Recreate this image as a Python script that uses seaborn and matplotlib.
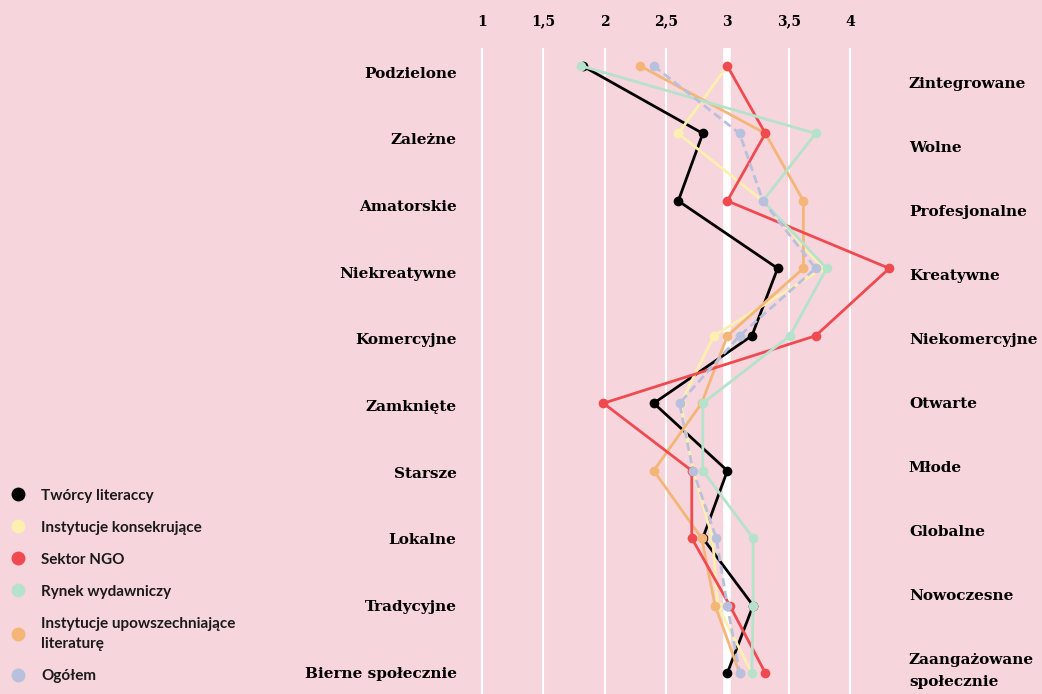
import matplotlib
matplotlib.use('Agg')
from matplotlib import pyplot as plt
from matplotlib.lines import Line2D
from matplotlib.transforms import ScaledTranslation
import seaborn as sns
import pandas as pd

bg = '#f7d5dd'
sns.set_style('white', {'axes.facecolor': bg, 'figure.facecolor': bg})

left_labels = ['Podzielone', 'Zależne', 'Amatorskie', 'Niekreatywne', 'Komercyjne',
               'Zamknięte', 'Starsze', 'Lokalne', 'Tradycyjne', 'Bierne społecznie']
right_labels = ['Zintegrowane', 'Wolne', 'Profesjonalne', 'Kreatywne', 'Niekomercyjne',
                'Otwarte', 'Młode', 'Globalne', 'Nowoczesne', 'Zaangażowane\nspołecznie']
ticks = [1, 1.5, 2, 2.5, 3, 3.5, 4]
tick_labels = ['1', '1,5', '2', '2,5', '3', '3,5', '4']

groups = ['Twórcy literaccy', 'Instytucje konsekrujące', 'Sektor NGO',
          'Rynek wydawniczy', 'Instytucje upowszechniające\nliteraturę', 'Ogółem']
colors = ['#000000', '#fdefb0', '#ef4a4f', '#b6e1cb', '#f3b677', '#b8c0de']

tworcy = [1.82, 2.80, 2.60, 3.41, 3.20, 2.40, 3.00, 2.80, 3.21, 3.00]
konsekrujace = [3.00, 2.60, 3.29, 3.78, 2.89, 2.62, 2.72, 2.88, 2.92, 3.20]
ngo = [3.00, 3.31, 3.00, 4.32, 3.72, 1.99, 2.71, 2.71, 3.02, 3.31]
rynek = [1.81, 3.72, 3.29, 3.81, 3.51, 2.80, 2.80, 3.21, 3.21, 3.20]
upowszechniajace = [2.29, 3.31, 3.62, 3.62, 3.00, 2.79, 2.40, 2.79, 2.90, 3.10]
ogolem = [2.40, 3.10, 3.29, 3.72, 3.10, 2.61, 2.72, 2.91, 3.00, 3.10]

series = [tworcy, konsekrujace, ngo, rynek, upowszechniajace, ogolem]
rows = []
for g, vals in zip(groups, series):
    for i, v in enumerate(vals):
        rows.append({'group': g, 'row': i, 'value': v})
df = pd.DataFrame(rows)

palette = dict(zip(groups, colors))
dashes = {g: '' for g in groups}
dashes['Ogółem'] = (3, 1.6)
markers = {g: 'o' for g in groups}
draw_order = [groups[0], groups[1], groups[4], groups[2], groups[3], groups[5]]

serif = {'family': 'DejaVu Serif', 'fontweight': 'bold', 'color': 'black'}

fig = plt.figure(figsize=(10.42, 6.94), dpi=100)
ax = fig.add_axes([465 / 1042, 0, 430 / 1042, 646 / 694])

ax.axvline(3, color='white', lw=5.5, zorder=0)
sns.lineplot(data=df, x='value', y='row', hue='group', style='group',
             hue_order=draw_order, style_order=draw_order,
             palette=palette, dashes=dashes, markers=markers,
             orient='y', sort=True, legend=False, ax=ax,
             linewidth=2, markersize=7, markeredgewidth=0)

ax.set_xlim(0.861, 4.367)
ax.set_ylim(9.311, -0.267)
ax.set_xticks(ticks)
ax.set_xticklabels(tick_labels, fontsize=10, **serif)
ax.xaxis.tick_top()
ax.tick_params(axis='x', length=0, pad=14)
ax.grid(axis='x', color='white', lw=1.5)
ax.grid(axis='y', visible=False)
ax.set_yticks([])
ax.set_xlabel('')
ax.set_ylabel('')
for s in ax.spines.values():
    s.set_visible(False)

# left and right pole labels sit on their own twin axes (slightly different spacing)
axl = ax.twinx()
axl.set_ylim((694 - 72) / 66.7, (48 - 72) / 66.7)
axl.yaxis.tick_left()
axl.set_yticks(range(len(left_labels)))
axl.set_yticklabels(left_labels, fontsize=11, **serif)
axl.tick_params(axis='y', length=0, pad=6)

axr = ax.twinx()
axr.set_ylim((694 - 82) / 64.1, (48 - 82) / 64.1)
axr.set_yticks(range(len(right_labels)))
axr.set_yticklabels(right_labels, fontsize=11, ha='left', linespacing=1.65, **serif)
axr.tick_params(axis='y', length=0, pad=10)
last = axr.get_yticklabels()[-1]
last.set_transform(last.get_transform() + ScaledTranslation(0, -0.07, fig.dpi_scale_trans))
for a in (axl, axr):
    a.grid(False)
    for s in a.spines.values():
        s.set_visible(False)

handles = [Line2D([], [], marker='o', linestyle='', color=c, markersize=10, markeredgewidth=0)
           for c in colors]
leg = fig.legend(handles, groups, loc='upper left', bbox_to_anchor=(0.007, 1 - 484 / 694),
                 frameon=False, prop={'family': 'Lato', 'weight': 'bold', 'size': 11},
                 handlelength=0.8, handletextpad=1.1, labelspacing=1.18, borderaxespad=0,
                 borderpad=0.3)
for t in leg.get_texts():
    t.set_color('#1a1a1a')
leg.get_texts()[4].set_linespacing(1.6)

fig.savefig('out.png', dpi=100, facecolor=bg)
